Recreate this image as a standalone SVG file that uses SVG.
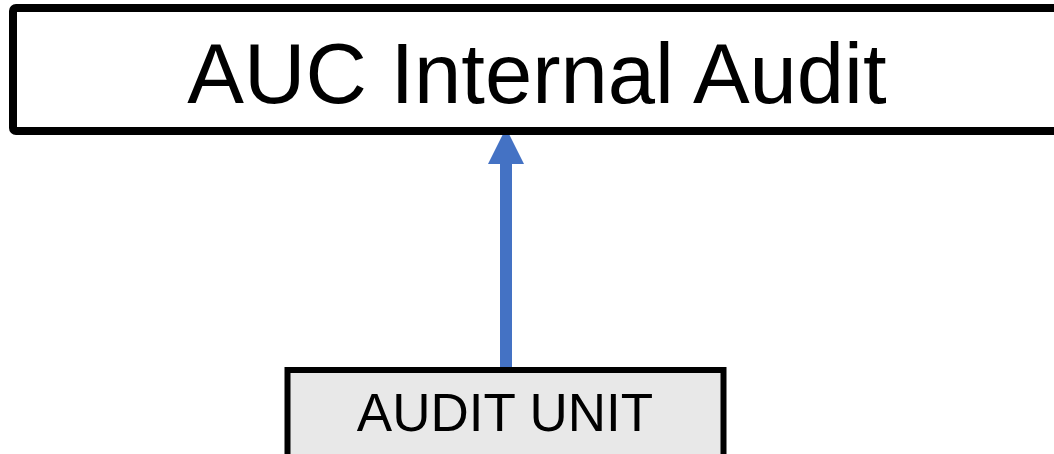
<svg xmlns="http://www.w3.org/2000/svg" width="1054" height="454" viewBox="0 0 1054 454">
<style>
.lbl{font-family:"Liberation Sans",Arial,sans-serif;fill:#000;text-anchor:middle}
</style>
<rect width="1054" height="454" fill="#fff"/>
<g id="connectors">
<line x1="506" y1="368" x2="506" y2="162" stroke="#4472C4" stroke-width="12"/>
<polygon points="506,128 524,164 488,164" fill="#4472C4"/>
</g>
<g id="node-auc">
<rect x="13" y="8" width="1060" height="123" rx="3" fill="#fff" stroke="#000" stroke-width="8"/>
<text class="lbl" x="537" y="103" font-size="85">AUC Internal Audit</text>
</g>
<g id="node-unit">
<rect x="287.5" y="370" width="436" height="90" fill="#e8e8e8" stroke="#000" stroke-width="6"/>
<text class="lbl" x="505" y="431" font-size="53">AUDIT UNIT</text>
</g>
</svg>
